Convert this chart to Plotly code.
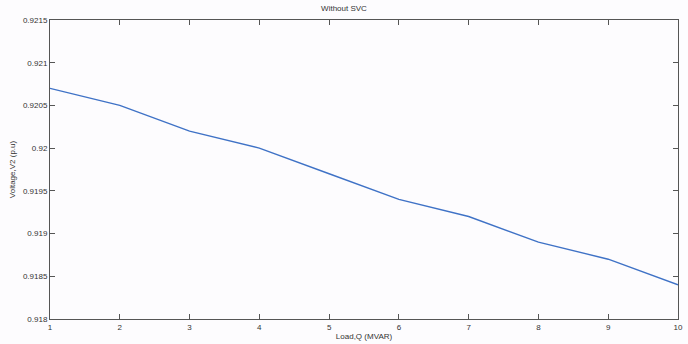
import plotly.graph_objects as go

load_q = [1, 2, 3, 4, 5, 6, 7, 8, 9, 10]
voltage_v2 = [0.9207, 0.9205, 0.9202, 0.9200, 0.9197, 0.9194, 0.9192, 0.9189, 0.9187, 0.9184]
x_ticks = [1, 2, 3, 4, 5, 6, 7, 8, 9, 10]
y_ticks = [0.918, 0.9185, 0.919, 0.9195, 0.92, 0.9205, 0.921, 0.9215]
y_labels = ["0.918", "0.9185", "0.919", "0.9195", "0.92", "0.9205", "0.921", "0.9215"]

fig = go.Figure()
fig.add_trace(go.Scatter(x=load_q, y=voltage_v2, mode="lines",
                         line=dict(color="#3f72c6", width=1.4), showlegend=False))

axis_common = dict(showgrid=False, zeroline=False, showline=True, linecolor="#555555",
                   linewidth=1, mirror="ticks", ticks="inside", ticklen=5,
                   tickcolor="#555555", tickfont=dict(family="Arial, Liberation Sans", size=8, color="#333333"))

fig.update_layout(
    width=688, height=344,
    margin=dict(l=50, r=5, t=20, b=20),
    paper_bgcolor="#fdfcfe", plot_bgcolor="#fdfcfe",
    title=dict(text="Without SVC", x=0.5, xanchor="center", y=0.985, yanchor="top",
               font=dict(family="Arial, Liberation Sans", size=8, color="#333333")),
    xaxis=dict(range=[1, 10], tickvals=x_ticks,
               title=dict(text="Load,Q (MVAR)", standoff=2,
                          font=dict(family="Arial, Liberation Sans", size=8, color="#333333")),
               **axis_common),
    yaxis=dict(range=[0.918, 0.9215], tickvals=y_ticks, ticktext=y_labels,
               title=dict(text="Voltage,V2 (p.u)", standoff=6,
                          font=dict(family="Arial, Liberation Sans", size=8, color="#333333")),
               **axis_common),
)

fig.write_html("out.html")
